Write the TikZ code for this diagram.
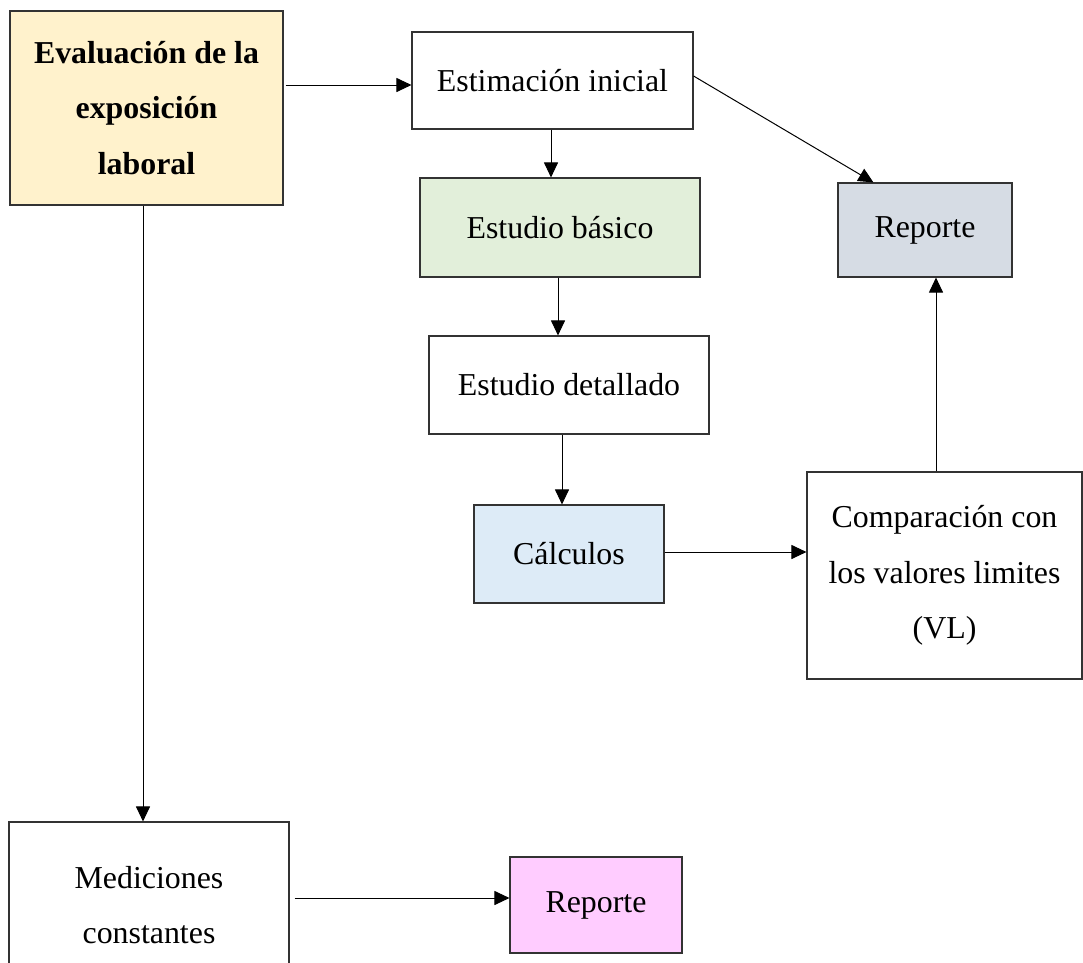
\documentclass[tikz,border=0pt]{standalone}
\usepackage{fontspec}
\setmainfont{Liberation Serif}
\usetikzlibrary{arrows.meta}
\definecolor{cyellow}{HTML}{FFF2CC}
\definecolor{cgreen}{HTML}{E2EFDA}
\definecolor{cgray}{HTML}{D6DCE4}
\definecolor{cblue}{HTML}{DDEBF7}
\definecolor{cpink}{HTML}{FFCCFF}
\definecolor{cborder}{HTML}{333333}
\tikzset{
  box/.style={draw=cborder, line width=1.1bp, rectangle, inner sep=0pt, align=center,
    font=\fontsize{32}{56}\selectfont},
  arr/.style={draw=black, line width=1bp, -{Triangle[length=15bp,width=14bp]}}
}
\begin{document}
\begin{tikzpicture}[x=1bp,y=-1bp]
\useasboundingbox (0,0) rectangle (1083,963);
\clip (0,0) rectangle (1083,963);
\fill[white] (0,0) rectangle (1083,963);
\node[box, fill=cyellow, minimum width=273bp, minimum height=194bp, font=\fontsize{32}{56}\selectfont\bfseries] (eval) at (146.5,108) {Evaluación de la\\exposición\\laboral};
\node[box, minimum width=281bp, minimum height=97bp] (est) at (552.5,80.5) {Estimación inicial};
\node[box, fill=cgreen, minimum width=280bp, minimum height=99bp] (bas) at (560,227.5) {Estudio básico};
\node[box, fill=cgray, minimum width=174bp, minimum height=94bp] (rep1) at (925,230) {Reporte};
\node[box, minimum width=280bp, minimum height=98bp] (det) at (569,385) {Estudio detallado};
\node[box, fill=cblue, minimum width=190bp, minimum height=98bp] (calc) at (569,554) {Cálculos};
\node[box, minimum width=275bp, minimum height=207bp] (comp) at (944.5,575.5) {Comparación con\\los valores limites\\(VL)};
\node[box, minimum width=280bp, minimum height=166bp] (med) at (149,905) {Mediciones\\constantes};
\node[box, fill=cpink, minimum width=172bp, minimum height=96bp] (rep2) at (596,905) {Reporte};

\coordinate (e1) at ([yshift=-4.5bp]est.west);
\draw[arr, shorten <=2bp] (eval.east |- e1) -- (e1);
\draw[arr] ([xshift=-1.5bp]est.south) -- ([xshift=-1.5bp]est.south |- bas.north);
\draw[arr] ([yshift=4.5bp]est.east) -- ([xshift=36bp]rep1.north west);
\draw[arr] ([xshift=-2bp]bas.south) -- ([xshift=-2bp]bas.south |- det.north);
\draw[arr] ([xshift=-7bp]det.south) -- ([xshift=-7bp]calc.north);
\draw[arr] ([yshift=2bp]calc.east) -- ([yshift=2bp]calc.east -| comp.west);
\draw[arr] ([xshift=-8.5bp]comp.north) -- ([xshift=-8.5bp]comp.north |- rep1.south);
\draw[arr] ([xshift=-3.5bp]eval.south) -- ([xshift=-3.5bp]eval.south |- med.north);
\coordinate (r2) at ([yshift=7bp]rep2.west);
\draw[arr, shorten <=5bp] (med.east |- r2) -- (r2);
\end{tikzpicture}
\end{document}
